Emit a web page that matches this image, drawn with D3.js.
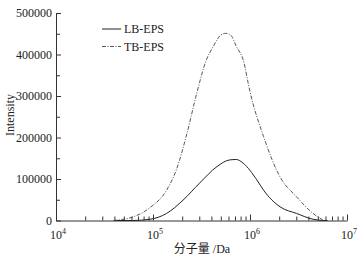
<!DOCTYPE html>
<html>
<head>
<meta charset="utf-8">
<script src="https://cdn.jsdelivr.net/npm/d3@7"></script>
<style>
  body { margin: 0; background: #fff; }
  svg { display: block; font-family: "Liberation Serif", "Times New Roman", "Noto Sans CJK SC", serif; }
</style>
</head>
<body>
<svg id="chart" width="359" height="258"></svg>
<script>
// molecular weight (Da) and intensity
const lbMw = [39800, 61700, 93300, 138000, 204000, 302000, 457000, 617000, 724000, 851000, 1175000, 1380000, 2040000, 3020000, 4470000, 5750000, 6300000];
const lbInt = [0, 0, 3000, 17000, 49000, 90000, 130000, 146000, 147000, 138000, 98000, 73000, 33000, 17000, 3000, 0, 0];

const tbMw = [39000, 63000, 93000, 138000, 174000, 224000, 282000, 355000, 417000, 501000, 562000, 631000, 724000, 851000, 1000000, 1380000, 2040000, 3020000, 4470000, 5750000];
const tbInt = [0, 9000, 31000, 73000, 122000, 210000, 306000, 387000, 419000, 447000, 451000, 447000, 419000, 387000, 310000, 202000, 105000, 57000, 17000, 0];

const xMajors = [1e4, 1e5, 1e6, 1e7];
const yTicks = [0, 100000, 200000, 300000, 400000, 500000];
const seriesNames = ['LB-EPS', 'TB-EPS'];

const svg = d3.select('#chart');
svg.append('rect').attr('width', 359).attr('height', 258).attr('fill', '#fff');

const x = d3.scaleLog().domain([1e4, 1e7]).range([56, 347]);
const y = d3.scaleLinear().domain([0, 500000]).range([220.5, 13]);

const xMinors = [];
[1e4, 1e5, 1e6].forEach((d) => {
    for (let m = 2; m <= 9; m++) xMinors.push(d * m);
});
const yMinors = d3.range(50000, 500000, 100000);

// x axis
const xAxisG = svg.append('g').attr('transform', `translate(0,${y(0)})`);
xAxisG.call(d3.axisBottom(x).tickValues(xMajors).tickSize(-6).tickSizeOuter(0).tickFormat(''));
xAxisG.append('g').call(d3.axisBottom(x).tickValues(xMinors).tickSize(-4).tickSizeOuter(0).tickFormat(''))
    .select('.domain').remove();

// "10" centred on the tick, exponent hanging to the right
const xLab = svg.append('g')
    .selectAll('text')
    .data(xMajors)
    .join('text')
    .attr('x', (d) => x(d) - 6)
    .attr('y', 239)
    .attr('font-size', 12)
    .attr('fill', '#222');
xLab.append('tspan').text('10');
xLab.append('tspan').attr('dy', -5).attr('font-size', 8).text((d) => Math.round(Math.log10(d)));

// y axis
const yAxisG = svg.append('g').attr('transform', `translate(${x(1e4)},0)`);
yAxisG.call(d3.axisLeft(y).tickValues(yTicks).tickSize(-5).tickSizeOuter(0).tickPadding(4).tickFormat(d3.format('d')));
yAxisG.append('g').call(d3.axisLeft(y).tickValues(yMinors).tickSize(-4).tickSizeOuter(0).tickFormat(''))
    .select('.domain').remove();
yAxisG.selectAll('text').attr('font-size', 12).attr('font-family', 'Liberation Serif').attr('fill', '#222');

svg.selectAll('.domain, .tick line').attr('stroke', '#333').attr('stroke-width', 1);

// titles
svg.append('text')
    .attr('transform', 'translate(14,115) rotate(-90)')
    .attr('text-anchor', 'middle')
    .attr('font-size', 12)
    .attr('fill', '#222')
    .text('Intensity');

svg.append('text')
    .attr('x', 202)
    .attr('y', 253)
    .attr('text-anchor', 'middle')
    .attr('font-size', 12)
    .attr('fill', '#222')
    .text('分子量 /Da');

// curves
const line = d3.line()
    .x((d) => x(d[0]))
    .y((d) => y(d[1]))
    .curve(d3.curveMonotoneX);

svg.append('path')
    .datum(d3.zip(lbMw, lbInt))
    .attr('d', line)
    .attr('fill', 'none')
    .attr('stroke', '#222')
    .attr('stroke-width', 1);

svg.append('path')
    .datum(d3.zip(tbMw, tbInt))
    .attr('d', line)
    .attr('fill', 'none')
    .attr('stroke', '#444')
    .attr('stroke-width', 0.9)
    .attr('stroke-dasharray', '4,1.5,1,1.5');

// legend
const legend = svg.append('g');
seriesNames.forEach((name, i) => {
    const ly = 29 + i * 17.5;
    legend.append('line')
        .attr('x1', 102).attr('x2', 121)
        .attr('y1', ly).attr('y2', ly)
        .attr('stroke', i === 0 ? '#222' : '#444')
        .attr('stroke-width', i === 0 ? 1 : 0.9)
        .attr('stroke-dasharray', i === 0 ? null : '4,1.5,1,1.5');
    legend.append('text')
        .attr('x', 124)
        .attr('y', ly + 4)
        .attr('font-size', 12)
        .attr('fill', '#222')
        .text(name);
});
</script>
</body>
</html>
